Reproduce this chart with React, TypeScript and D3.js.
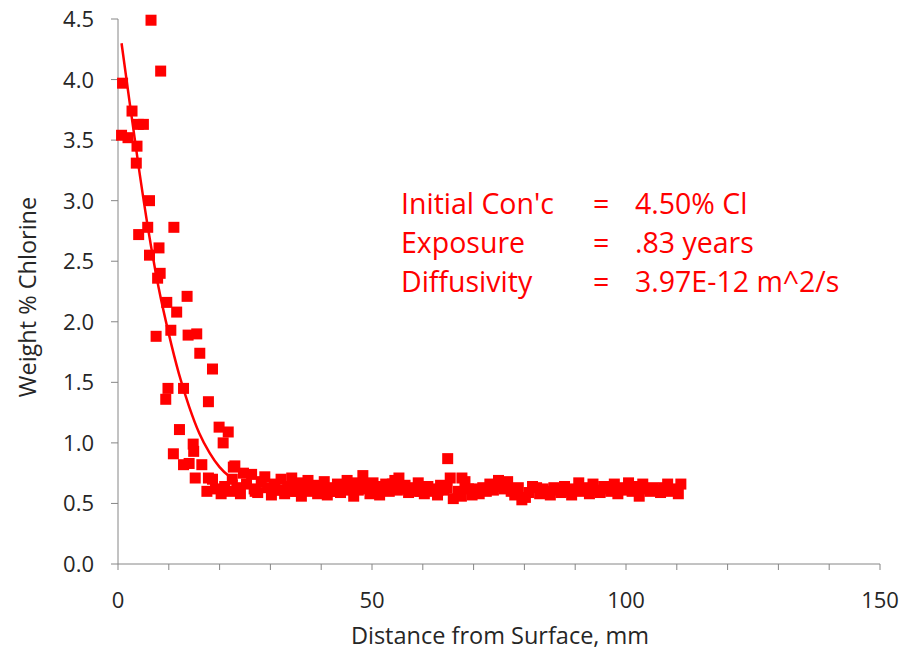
import React from "react";
import * as d3 from "d3";

// Measured chlorine profile (distance mm, weight % Cl)
const profileX: number[] = [
  0.9, 0.7, 1.97, 2.76, 3.6, 3.74, 4.0, 5.0, 6.5, 8.4, 6.2, 5.85, 4.07, 11.0, 8.07, 6.2, 8.3, 7.8,
  13.6, 9.6, 11.55, 10.4, 7.5, 13.8, 15.5, 16.1, 18.6, 9.84, 9.4, 12.9, 17.8, 12.1, 19.9, 21.7, 20.7,
  14.8, 14.9, 10.9, 12.9, 14.0, 16.5, 23.0, 15.2, 17.8, 22.7,
  17.5, 18.6, 19.2, 20.3, 21.0, 22.0, 22.5, 23.4, 24.1, 24.7, 25.3, 26.3, 26.8, 27.5, 28.2, 28.9, 29.5,
  30.2, 30.8, 31.5, 32.1, 32.8, 33.4, 34.2, 34.8, 35.5, 36.1, 36.7, 37.4, 38.0, 38.7, 39.3, 40.0, 40.6,
  41.2, 41.9, 42.5, 43.2, 43.8, 44.5, 45.1, 45.7, 46.4, 46.6, 47.0, 47.6, 48.2, 48.9, 49.6, 50.2, 50.8,
  51.5, 52.1, 52.7, 53.4, 54.0, 54.5, 55.3, 55.9, 56.5, 57.2, 57.8, 58.4, 59.1, 59.7, 60.3, 61.0, 61.6,
  62.2, 62.9, 63.5, 64.1, 64.8, 64.9, 65.4, 66.0, 67.7, 67.0, 67.6, 68.3, 69.0, 69.7, 70.4, 71.1, 71.8,
  72.5, 73.2, 73.9, 74.9, 75.3, 76.0, 76.7, 77.4, 78.1, 78.8, 79.5, 80.2, 80.9, 81.6, 82.4, 83.0, 83.7,
  84.4, 85.1, 85.8, 86.5, 87.2, 87.9, 88.6, 89.3, 90.0, 90.7, 91.4, 92.1, 92.8, 93.5, 94.2, 94.9, 95.6,
  96.3, 97.0, 97.7, 98.4, 99.1, 99.8, 100.5, 101.2, 101.9, 102.6, 103.3, 104.0, 104.7, 105.4, 106.1,
  106.8, 107.5, 108.2, 108.9, 109.6, 110.3, 110.8,
  27.0, 31.0, 35.0, 39.0, 43.0, 47.3, 51.0, 55.0, 59.5, 63.0
];
const profileY: number[] = [
  3.97, 3.54, 3.52, 3.74, 3.31, 3.45, 3.63, 3.63, 4.49, 4.07, 3.0, 2.78, 2.72, 2.78, 2.61, 2.55, 2.40, 2.36,
  2.21, 2.16, 2.08, 1.93, 1.88, 1.89, 1.90, 1.74, 1.61, 1.45, 1.36, 1.45, 1.34, 1.11, 1.13, 1.09, 1.0,
  0.99, 0.93, 0.91, 0.82, 0.83, 0.82, 0.81, 0.71, 0.71, 0.80,
  0.60, 0.70, 0.62, 0.58, 0.64, 0.60, 0.70, 0.63, 0.58, 0.75, 0.66, 0.74, 0.62, 0.59, 0.68, 0.72, 0.63,
  0.57, 0.66, 0.61, 0.70, 0.58, 0.64, 0.71, 0.60, 0.67, 0.56, 0.63, 0.69, 0.60, 0.65, 0.58, 0.62, 0.68,
  0.57, 0.63, 0.60, 0.66, 0.59, 0.64, 0.69, 0.61, 0.56, 0.67, 0.66, 0.62, 0.73, 0.64, 0.58, 0.67, 0.62,
  0.57, 0.64, 0.66, 0.60, 0.66, 0.69, 0.71, 0.62, 0.65, 0.59, 0.63, 0.60, 0.67, 0.61, 0.58, 0.64, 0.60,
  0.62, 0.57, 0.65, 0.61, 0.63, 0.87, 0.71, 0.54, 0.71, 0.60, 0.56, 0.68, 0.62, 0.57, 0.62, 0.58, 0.63,
  0.60, 0.66, 0.61, 0.69, 0.64, 0.62, 0.68, 0.60, 0.57, 0.63, 0.53, 0.55, 0.59, 0.64, 0.63, 0.58, 0.62,
  0.60, 0.57, 0.63, 0.61, 0.59, 0.64, 0.60, 0.57, 0.62, 0.67, 0.60, 0.63, 0.58, 0.66, 0.61, 0.59, 0.64,
  0.62, 0.60, 0.66, 0.58, 0.63, 0.61, 0.67, 0.60, 0.64, 0.56, 0.66, 0.62, 0.60, 0.63, 0.61,
  0.59, 0.63, 0.66, 0.60, 0.62, 0.58, 0.66,
  0.60, 0.61, 0.60, 0.61, 0.60, 0.61, 0.60, 0.61, 0.60, 0.61
];

// Fitted diffusion curve
const fitX: number[] = [0.7, 2, 4, 6, 8, 10, 12, 14, 16, 18, 20, 22, 23.5];
const fitY: number[] = [4.30, 3.90, 3.30, 2.75, 2.28, 1.90, 1.57, 1.30, 1.08, 0.92, 0.80, 0.72, 0.68];

const xTickLabels: number[] = [0, 50, 100, 150];
const xMinorTicks: number[] = d3.range(0, 151, 10);
const yTickValues: number[] = [0, 0.5, 1, 1.5, 2, 2.5, 3, 3.5, 4, 4.5];

const noteLabels: string[] = ["Initial Con'c", "Exposure", "Diffusivity"];
const noteValues: string[] = ["4.50% Cl", ".83 years", "3.97E-12 m^2/s"];

const W = 902;
const H = 652;
const FONT = "'Open Sans', 'Liberation Sans', sans-serif";

export default function App() {
  const x = d3.scaleLinear().domain([0, 150]).range([118, 880]);
  const y = d3.scaleLinear().domain([0, 4.5]).range([564, 19]);
  const line = d3
    .line<number>()
    .x((_, i) => x(fitX[i]))
    .y((d) => y(d))
    .curve(d3.curveMonotoneX);
  const axisColor = "#868686";
  const textColor = "#262626";
  const sq = 11;

  return (
    <svg
      width={W}
      height={H}
      style={{ position: "absolute", left: 0, top: 0, background: "#fff" }}
      fontFamily={FONT}
    >
      {/* axes */}
      <line x1={x(0)} x2={x(0)} y1={y(4.5)} y2={y(0)} stroke={axisColor} strokeWidth={1} />
      <line x1={x(0)} x2={x(150)} y1={y(0)} y2={y(0)} stroke={axisColor} strokeWidth={1} />
      {yTickValues.map((v) => (
        <g key={"yt" + v}>
          <line x1={x(0) - 7} x2={x(0)} y1={y(v)} y2={y(v)} stroke={axisColor} />
          <text x={94} y={y(v) + 8} textAnchor="end" fontSize={22} fill={textColor}>
            {v.toFixed(1)}
          </text>
        </g>
      ))}
      {xMinorTicks.map((v) => (
        <line key={"xt" + v} x1={x(v)} x2={x(v)} y1={y(0)} y2={y(0) + 6} stroke={axisColor} />
      ))}
      {xTickLabels.map((v) => (
        <text key={"xl" + v} x={x(v)} y={608} textAnchor="middle" fontSize={22} fill={textColor}>
          {v}
        </text>
      ))}
      <text x={500} y={644} textAnchor="middle" fontSize={23.5} fill={textColor}>
        Distance from Surface, mm
      </text>
      <text
        transform={`translate(36,297) rotate(-90)`}
        textAnchor="middle"
        fontSize={23.5}
        fill={textColor}
      >
        Weight % Chlorine
      </text>

      {/* markers */}
      {profileX.map((px, i) => (
        <rect
          key={"p" + i}
          x={x(px) - sq / 2}
          y={y(profileY[i]) - sq / 2}
          width={sq}
          height={sq}
          fill="#FF0000"
        />
      ))}
      {/* fit curve */}
      <path d={line(fitY) || ""} fill="none" stroke="#FF0000" strokeWidth={2.5} />

      {/* annotation */}
      {noteLabels.map((t, i) => (
        <g key={"n" + i} fontSize={28.5} fill="#FF0000">
          <text x={401} y={214 + i * 39}>{t}</text>
          <text x={593} y={214 + i * 39}>=</text>
          <text x={635} y={214 + i * 39}>{noteValues[i]}</text>
        </g>
      ))}
    </svg>
  );
}
